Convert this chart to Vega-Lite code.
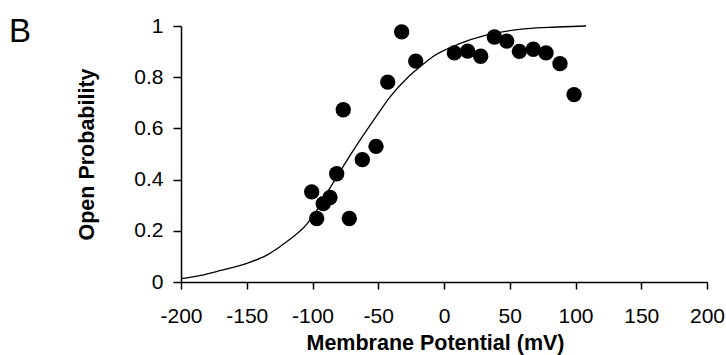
{
  "$schema": "https://vega.github.io/schema/vega-lite/v6.json",
  "autosize": "none",
  "width": 526,
  "height": 256,
  "padding": {"left": 181, "top": 26, "right": 19, "bottom": 73},
  "background": "white",
  "title": {
    "text": "B",
    "anchor": "start",
    "frame": "group",
    "dx": -172,
    "offset": -60,
    "baseline": "alphabetic",
    "font": "Liberation Sans",
    "fontSize": 33,
    "fontWeight": "normal",
    "color": "black"
  },
  "config": {
    "view": {"stroke": null},
    "font": "Liberation Sans",
    "axis": {
      "grid": false,
      "domainColor": "black",
      "domainWidth": 1.5,
      "tickColor": "black",
      "tickWidth": 1.5,
      "tickSize": 7,
      "labelFont": "Liberation Sans",
      "labelFontSize": 21,
      "labelColor": "black",
      "labelFlush": false,
      "labelOverlap": false,
      "titleFont": "Liberation Sans",
      "titleFontSize": 21.5,
      "titleFontWeight": "bold",
      "titleColor": "black"
    }
  },
  "datasets": {
    "curve": [
      {"v": -200, "p": 0.013},
      {"v": -185, "p": 0.026},
      {"v": -170, "p": 0.045},
      {"v": -150, "p": 0.073},
      {"v": -135, "p": 0.104},
      {"v": -120, "p": 0.156},
      {"v": -104, "p": 0.228},
      {"v": -97, "p": 0.278},
      {"v": -87, "p": 0.365},
      {"v": -77, "p": 0.449},
      {"v": -64, "p": 0.553},
      {"v": -51, "p": 0.651},
      {"v": -41, "p": 0.723},
      {"v": -28, "p": 0.797},
      {"v": -17, "p": 0.846},
      {"v": -8, "p": 0.882},
      {"v": 12, "p": 0.931},
      {"v": 32, "p": 0.964},
      {"v": 63, "p": 0.99},
      {"v": 86, "p": 0.996},
      {"v": 108, "p": 1.0}
    ],
    "points": [
      {"v": -100.6, "p": 0.352},
      {"v": -96.8, "p": 0.248},
      {"v": -91.8, "p": 0.306},
      {"v": -86.7, "p": 0.33},
      {"v": -81.6, "p": 0.423},
      {"v": -76.6, "p": 0.673},
      {"v": -72.0, "p": 0.248},
      {"v": -62.1, "p": 0.478},
      {"v": -51.7, "p": 0.53},
      {"v": -42.8, "p": 0.781},
      {"v": -32.2, "p": 0.977},
      {"v": -21.5, "p": 0.863},
      {"v": 7.9, "p": 0.895},
      {"v": 18.0, "p": 0.902},
      {"v": 27.9, "p": 0.882},
      {"v": 38.3, "p": 0.957},
      {"v": 47.7, "p": 0.941},
      {"v": 57.3, "p": 0.901},
      {"v": 67.9, "p": 0.909},
      {"v": 77.6, "p": 0.895},
      {"v": 88.2, "p": 0.853},
      {"v": 98.9, "p": 0.732}
    ]
  },
  "encoding": {
    "x": {
      "field": "v",
      "type": "quantitative",
      "scale": {"domain": [-200, 200], "nice": false, "zero": false},
      "axis": {
        "title": "Membrane Potential (mV)",
        "values": [-200, -150, -100, -50, 0, 50, 100, 150, 200],
        "labelExpr": "'' + datum.value",
        "labelPadding": 16,
        "titlePadding": 6,
        "titleX": 254
      }
    },
    "y": {
      "field": "p",
      "type": "quantitative",
      "scale": {"domain": [0, 1], "nice": false},
      "axis": {
        "title": "Open Probability",
        "values": [0, 0.2, 0.4, 0.6, 0.8, 1],
        "labelExpr": "'' + datum.value",
        "tickSize": 8,
        "labelPadding": 10,
        "titlePadding": 35
      }
    }
  },
  "layer": [
    {
      "data": {"name": "curve"},
      "mark": {"type": "line", "color": "black", "strokeWidth": 1.3, "interpolate": "monotone"}
    },
    {
      "data": {"name": "points"},
      "mark": {"type": "circle", "color": "black", "opacity": 1, "size": 236}
    }
  ]
}
